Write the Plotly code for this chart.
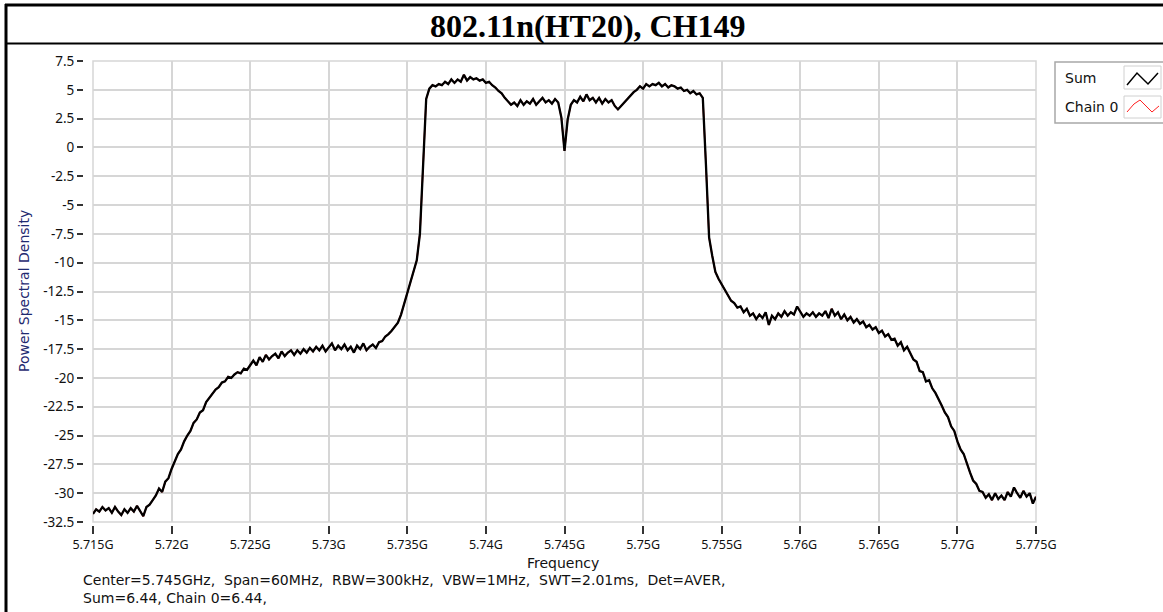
import plotly.graph_objects as go

W, H = 1163, 612

# ---- data ----
f_start_ghz = 5.715
f_step_ghz = 0.0002
psd_sum = [
    -31.8, -31.4, -31.6, -31.2, -31.5, -31.3, -31.7, -31.2, -31.6, -31.9,
    -31.4, -31.7, -31.3, -31.6, -31.1, -31.5, -32.0, -31.2, -31.0, -30.6,
    -30.2, -29.6, -29.9, -29.0, -28.7, -27.9, -27.2, -26.6, -26.2, -25.5,
    -25.0, -24.6, -23.9, -23.6, -23.0, -22.8, -22.1, -21.7, -21.4, -21.0,
    -20.8, -20.4, -20.3, -19.9, -20.0, -19.7, -19.5, -19.6, -19.2, -19.3,
    -18.9, -18.5, -18.9, -18.2, -18.6, -18.0, -18.4, -18.1, -17.9, -18.3,
    -17.7, -18.1, -17.8, -17.6, -18.0, -17.6, -17.9, -17.5, -17.8, -17.4,
    -17.7, -17.3, -17.6, -17.2, -17.7, -17.3, -17.0, -17.6, -17.2, -17.5,
    -17.1, -17.6, -17.3, -17.8, -17.2, -17.5, -17.0, -17.6, -17.3, -17.1,
    -17.4, -16.9, -16.8, -16.4, -16.2, -15.9, -15.5, -15.2, -14.5, -13.6,
    -12.6, -11.6, -10.7, -9.8, -7.5, -1.5, 4.2, 5.1, 5.4, 5.3,
    5.5, 5.4, 5.7, 5.5, 5.9, 5.6, 5.9, 5.7, 6.3, 5.8,
    6.1, 5.9, 6.0, 5.8, 5.9, 5.6, 5.7, 5.4, 5.2, 4.9,
    4.7, 4.3, 4.0, 3.7, 3.9, 3.6, 4.1, 3.7, 4.0, 3.8,
    4.2, 3.7, 4.0, 4.3, 3.9, 4.1, 3.8, 4.2, 3.9, 2.6,
    -0.3, 2.4, 3.7, 4.1, 3.9, 4.4, 4.0, 4.6, 4.1, 4.3,
    3.9, 4.3, 3.8, 4.2, 3.9, 4.1, 3.6, 3.3, 3.6, 3.9,
    4.2, 4.5, 4.8, 5.0, 5.3, 5.1, 5.5, 5.3, 5.5, 5.4,
    5.6, 5.3, 5.5, 5.2, 5.4, 5.3, 5.1, 5.2, 4.9, 5.0,
    4.7, 4.9, 4.6, 4.7, 4.3, -1.5, -7.8, -9.4, -10.8, -11.4,
    -11.9, -12.4, -12.9, -13.3, -13.5, -13.9, -13.8, -14.3, -14.0, -14.6,
    -14.4, -14.9, -14.5, -14.8, -14.3, -15.4, -14.6, -14.9, -14.4, -14.7,
    -14.2, -14.6, -14.3, -14.5, -13.8, -14.2, -14.7, -14.4, -14.6, -14.3,
    -14.7, -14.4, -14.6, -14.2, -14.8, -14.0, -14.6, -14.3, -14.9, -14.5,
    -15.0, -14.7, -15.2, -14.9, -15.3, -15.1, -15.6, -15.4, -15.8, -15.6,
    -16.1, -15.9, -16.4, -16.2, -16.7, -16.6, -17.2, -16.9, -17.6, -17.3,
    -17.9, -18.4, -18.6, -19.4, -19.5, -20.3, -20.2, -20.9, -21.3, -21.8,
    -22.4, -23.0, -23.4, -24.2, -24.6, -25.5, -26.2, -26.6, -27.5, -28.2,
    -28.9, -29.2, -29.8, -29.9, -30.4, -30.1, -30.6, -30.0, -30.5, -30.2,
    -30.6, -29.9, -30.3, -29.5, -30.0, -30.4, -29.8, -30.3, -30.0, -30.9,
    -30.3,
]
psd_chain0 = list(psd_sum)
freq_ghz = [f_start_ghz + f_step_ghz * i for i in range(len(psd_sum))]

x_tick_vals = [5.715, 5.72, 5.725, 5.73, 5.735, 5.74, 5.745, 5.75, 5.755, 5.76, 5.765, 5.77, 5.775]
x_tick_text = ["5.715G", "5.72G", "5.725G", "5.73G", "5.735G", "5.74G", "5.745G",
               "5.75G", "5.755G", "5.76G", "5.765G", "5.77G", "5.775G"]
y_tick_vals = [7.5, 5, 2.5, 0, -2.5, -5, -7.5, -10, -12.5, -15, -17.5, -20, -22.5, -25, -27.5, -30, -32.5]
y_tick_text = ["7.5", "5", "2.5", "0", "-2.5", "-5", "-7.5", "-10", "-12.5", "-15", "-17.5",
               "-20", "-22.5", "-25", "-27.5", "-30", "-32.5"]

title_text = "802.11n(HT20), CH149"
info_line1 = "Center=5.745GHz,\u00a0\u00a0Span=60MHz,\u00a0\u00a0RBW=300kHz,\u00a0\u00a0VBW=1MHz,\u00a0\u00a0SWT=2.01ms,\u00a0\u00a0Det=AVER,"
info_line2 = "Sum=6.44, Chain 0=6.44,"


def px(x):
    return x / W


def py(y):
    return 1 - y / H


FONT = "Noto Sans"
TFONT = "DejaVu Sans"

fig = go.Figure()
fig.add_trace(go.Scatter(x=freq_ghz, y=psd_chain0, mode="lines", name="Chain 0",
                         line=dict(color="#ff0000", width=1.5), showlegend=False))
fig.add_trace(go.Scatter(x=freq_ghz, y=psd_sum, mode="lines", name="Sum",
                         line=dict(color="#000000", width=2.3), showlegend=False))

grid_c = "#d6d6d6"
fig.update_layout(
    width=W, height=H,
    margin=dict(l=0, r=0, t=0, b=0, pad=0, autoexpand=False),
    paper_bgcolor="white", plot_bgcolor="white",
    showlegend=False,
    xaxis=dict(
        domain=[px(93), px(1036)], range=[5.715, 5.775],
        anchor="free", position=py(525), automargin=False,
        tickvals=x_tick_vals, ticktext=x_tick_text,
        ticks="outside", ticklen=8, tickwidth=1.5, tickcolor="#333333",
        showgrid=True, gridcolor=grid_c, gridwidth=1.5, zeroline=False, showline=False,
        tickfont=dict(family=FONT, size=12.5, color="#111111"),
    ),
    yaxis=dict(
        domain=[py(522), py(61)], range=[-32.5, 7.5],
        anchor="free", position=px(83), automargin=False,
        tickvals=y_tick_vals, ticktext=y_tick_text,
        ticks="outside", ticklen=6, tickwidth=1.5, tickcolor="#333333",
        showgrid=True, gridcolor=grid_c, gridwidth=1.5, zeroline=False, showline=False,
        tickfont=dict(family=FONT, size=13.5, color="#111111"),
    ),
)

shapes = [
    # plot frame
    dict(type="rect", xref="x domain", yref="y domain", x0=0, x1=1, y0=0, y1=1,
         line=dict(color=grid_c, width=1.5), layer="below"),
    # outer border
    dict(type="line", xref="paper", yref="paper", x0=px(5), x1=1, y0=py(5), y1=py(5),
         line=dict(color="black", width=3)),
    dict(type="line", xref="paper", yref="paper", x0=px(6), x1=px(6), y0=py(4), y1=0,
         line=dict(color="black", width=3)),
    dict(type="line", xref="paper", yref="paper", x0=px(6), x1=1, y0=py(43.5), y1=py(43.5),
         line=dict(color="black", width=2)),
    # legend box
    dict(type="rect", xref="paper", yref="paper", x0=px(1055), x1=px(1175), y0=py(123), y1=py(62),
         line=dict(color="#a8a8a8", width=1.5), fillcolor="white"),
    dict(type="rect", xref="paper", yref="paper", x0=px(1124), x1=px(1161), y0=py(89), y1=py(66),
         line=dict(color="#d0d0d0", width=1), fillcolor="white"),
    dict(type="rect", xref="paper", yref="paper", x0=px(1124), x1=px(1161), y0=py(118), y1=py(96),
         line=dict(color="#d0d0d0", width=1), fillcolor="white"),
]


def path(pts):
    return "M " + " L ".join(f"{px(a):.5f},{py(b):.5f}" for a, b in pts)


shapes.append(dict(type="path", xref="paper", yref="paper",
                   path=path([(1127, 85), (1137, 73), (1148, 84), (1158, 73)]),
                   line=dict(color="black", width=1.5)))
shapes.append(dict(type="path", xref="paper", yref="paper",
                   path=path([(1127, 112), (1134, 104), (1140, 100), (1146, 106), (1152, 112), (1159, 106)]),
                   line=dict(color="#ff2020", width=1)))

annotations = [
    dict(text=f"<b>{title_text}</b>", x=px(588), y=py(26), xref="paper", yref="paper",
         showarrow=False, xanchor="center", yanchor="middle",
         font=dict(family="Liberation Serif", size=32, color="black")),
    dict(text="Power Spectral Density", x=px(24), y=py(291), xref="paper", yref="paper",
         showarrow=False, textangle=-90, xanchor="center", yanchor="middle",
         font=dict(family=TFONT, size=14, color="#1f2a70")),
    dict(text="Frequency", x=px(563), y=py(563), xref="paper", yref="paper",
         showarrow=False, xanchor="center", yanchor="middle",
         font=dict(family=TFONT, size=14, color="#111111")),
    dict(text=info_line1, x=px(81), y=py(580), xref="paper", yref="paper",
         showarrow=False, xanchor="left", yanchor="middle",
         font=dict(family=TFONT, size=14, color="#111111")),
    dict(text=info_line2, x=px(81), y=py(598), xref="paper", yref="paper",
         showarrow=False, xanchor="left", yanchor="middle",
         font=dict(family=TFONT, size=14, color="#111111")),
    dict(text="Sum", x=px(1063), y=py(78), xref="paper", yref="paper",
         showarrow=False, xanchor="left", yanchor="middle",
         font=dict(family=TFONT, size=14, color="#111111")),
    dict(text="Chain 0", x=px(1063), y=py(107), xref="paper", yref="paper",
         showarrow=False, xanchor="left", yanchor="middle",
         font=dict(family=TFONT, size=14, color="#111111")),
]

fig.update_layout(shapes=shapes, annotations=annotations)
fig.write_html("out.html")
